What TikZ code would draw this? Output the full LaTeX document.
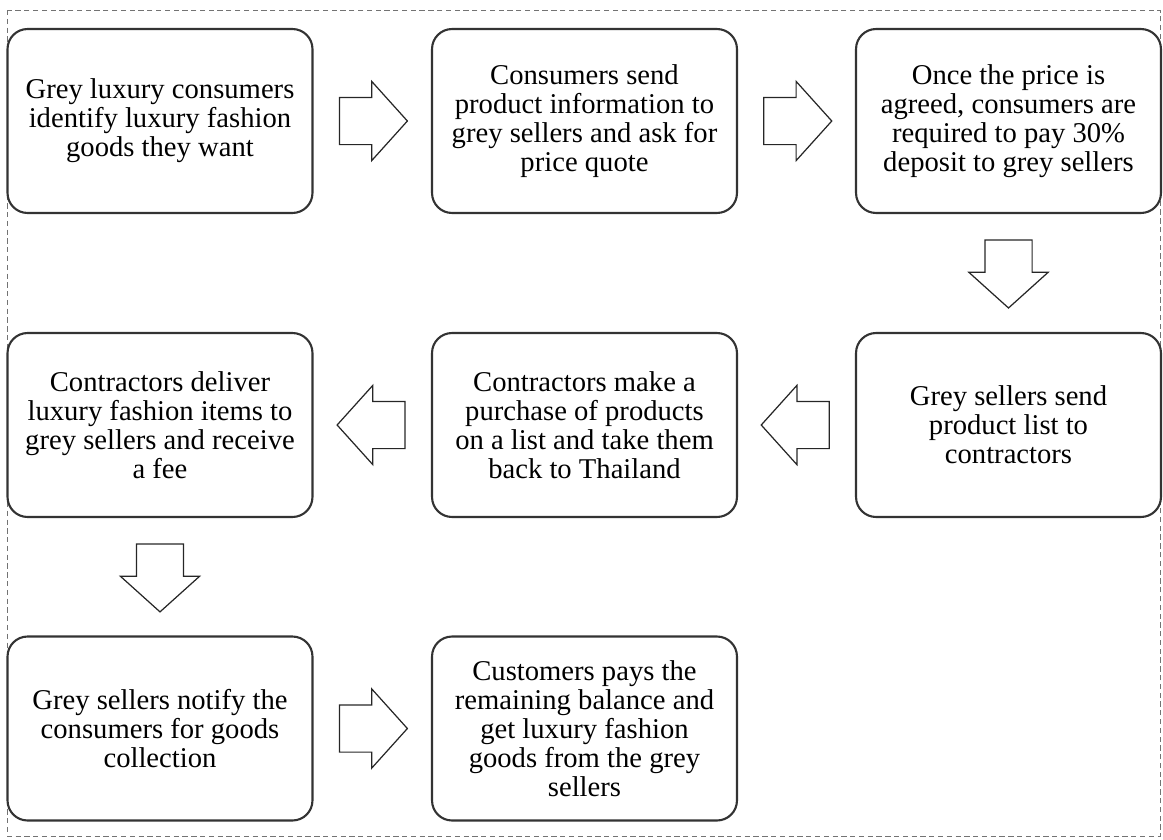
\documentclass[tikz,border=0pt]{standalone}
\usepackage{fontspec}
\setmainfont{Liberation Serif}
\usetikzlibrary{shapes.arrows,calc}

\tikzset{
    stepbox/.style={draw=black!80, line width=1.2pt, rounded corners=0.4cm,
        minimum width=6.1cm, minimum height=3.68cm, inner sep=0pt, align=center,
        text=black, font=\fontsize{16.3}{16.5}\selectfont},
    blockarrow/.style={single arrow, draw=black!85, line width=0.7pt, anchor=tail,
        inner xsep=0pt, inner ysep=0.46cm, minimum height=1.36cm,
        single arrow head extend=0.32cm, single arrow tip angle=96}
}

\begin{document}
\begin{tikzpicture}[x=0.02cm,y=-0.02cm]
                \useasboundingbox (0,0) rectangle (1163,839);
                \draw[densely dashed, black!55, line width=0.4pt] (7,10) rectangle (1160,836); % moldura

                % linha 1
                \node[stepbox] (s1) at (160,121) {Grey luxury consumers\\identify luxury fashion\\goods they want};
                \node[stepbox] (s2) at (584.5,121) {Consumers send\\product information to\\grey sellers and ask for\\price quote};
                \node[stepbox] (s3) at (1008.5,121) {Once the price is\\agreed, consumers are\\required to pay 30\%\\deposit to grey sellers};

                % linha 2
                \node[stepbox] (s4) at (1008.5,425) {Grey sellers send\\product list to\\contractors};
                \node[stepbox] (s5) at (584.5,425) {Contractors make a\\purchase of products\\on a list and take them\\back to Thailand};
                \node[stepbox] (s6) at (160,425) {Contractors deliver\\luxury fashion items to\\grey sellers and receive\\a fee};

                % linha 3
                \node[stepbox] (s7) at (160,728.5) {Grey sellers notify the\\consumers for goods\\collection};
                \node[stepbox] (s8) at (584.5,728.5) {Customers pays the\\remaining balance and\\get luxury fashion\\goods from the grey\\sellers};

                % setas (cauda a 21,5% do vao)
                \node[blockarrow] (a12) at ($(s1.east)!0.215!(s2.west)$) {};
                \node[blockarrow] (a23) at ($(s2.east)!0.215!(s3.west)$) {};
                \node[blockarrow, rotate=-90] (a34) at ($(s3.south)!0.215!(s4.north)$) {};
                \node[blockarrow, rotate=180] (a45) at ($(s4.west)!0.215!(s5.east)$) {};
                \node[blockarrow, rotate=180] (a56) at ($(s5.west)!0.215!(s6.east)$) {};
                \node[blockarrow, rotate=-90] (a67) at ($(s6.south)!0.215!(s7.north)$) {};
                \node[blockarrow] (a78) at ($(s7.east)!0.215!(s8.west)$) {};
\end{tikzpicture}
\end{document}
